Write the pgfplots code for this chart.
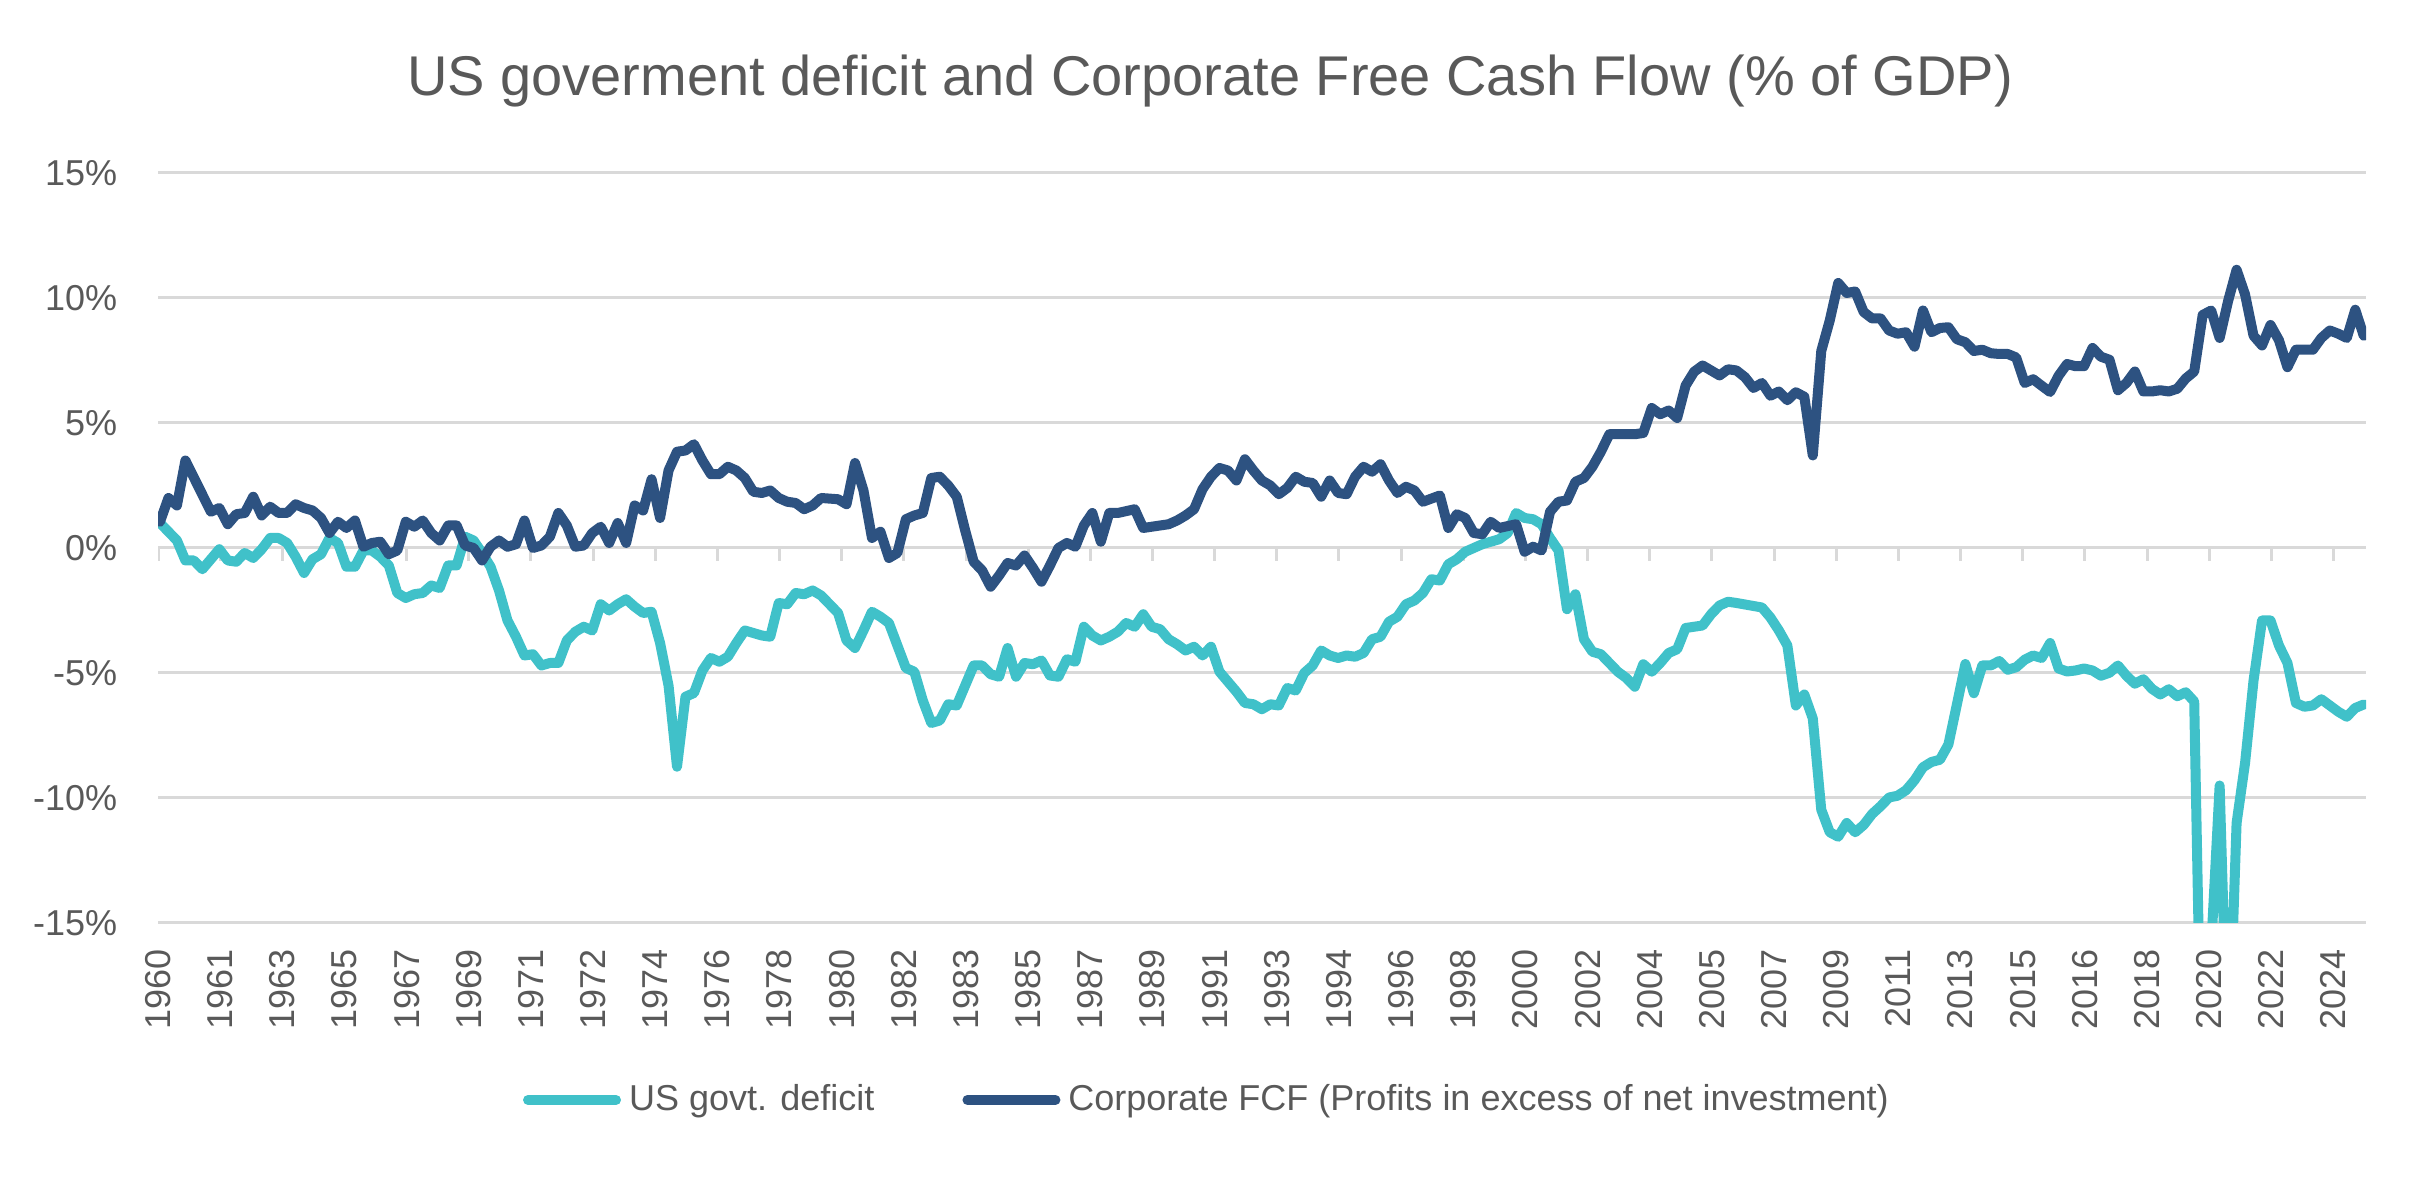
\documentclass[border=0pt]{standalone}
\usepackage{fontspec}
\setmainfont{Liberation Sans}
\usepackage{pgfplots}
\pgfplotsset{compat=1.18}
\usepackage{pgfplotstable}
\definecolor{tealc}{HTML}{40C1C9}
\definecolor{navyc}{HTML}{2D5281}
\definecolor{gridg}{HTML}{D9D9D9}
\definecolor{txtg}{HTML}{595959}

% q = quarter index (0 = 1960Q1), v = % of GDP
\pgfplotstableread{
q v
0 1.0
1 0.65
2 0.3
3 -0.5
4 -0.5
5 -0.85
6 -0.45
7 -0.05
8 -0.5
9 -0.55
10 -0.2
11 -0.4
12 -0.05
13 0.4
14 0.4
15 0.2
16 -0.35
17 -1.0
18 -0.45
19 -0.25
20 0.4
21 0.2
22 -0.75
23 -0.75
24 -0.1
25 -0.1
26 -0.35
27 -0.7
28 -1.8
29 -2.0
30 -1.85
31 -1.8
32 -1.5
33 -1.6
34 -0.7
35 -0.7
36 0.45
37 0.3
38 -0.2
39 -0.75
40 -1.7
41 -2.9
42 -3.55
43 -4.3
44 -4.25
45 -4.7
46 -4.6
47 -4.6
48 -3.7
49 -3.35
50 -3.15
51 -3.3
52 -2.25
53 -2.5
54 -2.25
55 -2.05
56 -2.35
57 -2.6
58 -2.55
59 -3.8
60 -5.5
61 -8.75
62 -5.95
63 -5.8
64 -4.9
65 -4.4
66 -4.55
67 -4.35
68 -3.8
69 -3.3
70 -3.4
71 -3.5
72 -3.55
73 -2.2
74 -2.25
75 -1.8
76 -1.85
77 -1.7
78 -1.9
79 -2.25
80 -2.6
81 -3.7
82 -4.0
83 -3.3
84 -2.55
85 -2.75
86 -3.0
87 -3.9
88 -4.8
89 -4.95
90 -6.1
91 -7.0
92 -6.9
93 -6.25
94 -6.3
95 -5.5
96 -4.7
97 -4.7
98 -5.05
99 -5.15
100 -4.0
101 -5.15
102 -4.6
103 -4.65
104 -4.5
105 -5.1
106 -5.15
107 -4.45
108 -4.55
109 -3.15
110 -3.5
111 -3.7
112 -3.55
113 -3.35
114 -3.0
115 -3.15
116 -2.65
117 -3.15
118 -3.25
119 -3.65
120 -3.85
121 -4.1
122 -3.95
123 -4.3
124 -3.95
125 -4.95
126 -5.35
127 -5.75
128 -6.2
129 -6.25
130 -6.45
131 -6.25
132 -6.3
133 -5.6
134 -5.7
135 -5.0
136 -4.7
137 -4.1
138 -4.3
139 -4.4
140 -4.3
141 -4.35
142 -4.2
143 -3.65
144 -3.55
145 -2.95
146 -2.75
147 -2.25
148 -2.1
149 -1.8
150 -1.25
151 -1.3
152 -0.65
153 -0.45
154 -0.15
155 0.0
156 0.15
157 0.25
158 0.35
159 0.6
160 1.4
161 1.2
162 1.15
163 0.95
164 0.4
165 -0.1
166 -2.45
167 -1.85
168 -3.65
169 -4.15
170 -4.25
172 -4.95
173 -5.2
174 -5.55
175 -4.65
176 -4.95
177 -4.6
178 -4.2
179 -4.05
180 -3.2
181 -3.15
182 -3.1
183 -2.65
184 -2.3
185 -2.15
186 -2.2
187 -2.26
189 -2.38
190 -2.78
191 -3.3
192 -3.9
193 -6.3
194 -5.86
195 -6.82
196 -10.47
197 -11.37
198 -11.55
199 -11.0
200 -11.37
201 -11.08
202 -10.64
203 -10.33
204 -9.98
205 -9.91
206 -9.69
207 -9.29
208 -8.77
209 -8.56
210 -8.47
211 -7.86
212 -6.26
213 -4.64
214 -5.81
215 -4.7
216 -4.7
217 -4.52
218 -4.87
219 -4.77
220 -4.47
221 -4.3
222 -4.4
223 -3.8
224 -4.82
225 -4.94
226 -4.9
227 -4.82
228 -4.9
229 -5.11
230 -4.99
231 -4.7
232 -5.11
233 -5.43
234 -5.25
235 -5.63
236 -5.86
237 -5.65
238 -5.93
239 -5.77
240 -6.14
241 -24.0
242 -16.0
243 -9.5
244 -21.0
245 -11.0
246 -8.6
247 -5.3
248 -2.9
249 -2.9
250 -3.9
251 -4.6
252 -6.2
253 -6.35
254 -6.3
255 -6.05
256 -6.3
257 -6.55
258 -6.75
259 -6.4
260 -6.26
}\deficit

\pgfplotstableread{
q v
0 1.05
1 2.0
2 1.7
3 3.5
6 1.45
7 1.6
8 0.95
9 1.35
10 1.4
11 2.05
12 1.3
13 1.65
14 1.4
15 1.4
16 1.75
17 1.6
18 1.5
19 1.2
20 0.6
21 1.05
22 0.8
23 1.1
24 0.05
25 0.2
26 0.25
27 -0.25
28 -0.1
29 1.05
30 0.85
31 1.1
32 0.6
33 0.3
34 0.9
35 0.9
36 0.1
37 0.0
38 -0.5
39 0.05
40 0.3
41 0.05
42 0.15
43 1.1
44 0.0
45 0.1
46 0.45
47 1.4
48 0.9
49 0.05
50 0.1
51 0.6
52 0.85
53 0.2
54 1.0
55 0.2
56 1.7
57 1.5
58 2.75
59 1.2
60 3.1
61 3.85
62 3.9
63 4.15
64 3.5
65 2.95
66 2.95
67 3.25
68 3.1
69 2.8
70 2.25
71 2.2
72 2.3
73 2.0
74 1.85
75 1.8
76 1.55
77 1.7
78 2.0
80 1.95
81 1.75
82 3.4
83 2.3
84 0.4
85 0.65
86 -0.4
87 -0.2
88 1.15
89 1.3
90 1.4
91 2.8
92 2.85
93 2.5
94 2.05
95 0.7
96 -0.55
97 -0.9
98 -1.55
99 -1.1
100 -0.6
101 -0.7
102 -0.3
103 -0.8
104 -1.35
105 -0.7
106 0.0
107 0.2
108 0.05
109 0.9
110 1.4
111 0.25
112 1.4
113 1.4
115 1.55
116 0.8
117 0.85
119 0.95
120 1.1
121 1.3
122 1.55
123 2.35
124 2.85
125 3.2
126 3.1
127 2.7
128 3.55
129 3.1
130 2.7
131 2.5
132 2.15
133 2.4
134 2.85
135 2.65
136 2.6
137 2.05
138 2.7
139 2.2
140 2.15
141 2.85
142 3.25
143 3.05
144 3.35
145 2.7
146 2.2
147 2.45
148 2.3
149 1.85
151 2.1
152 0.8
153 1.35
154 1.2
155 0.6
156 0.55
157 1.05
158 0.8
160 0.95
161 -0.15
162 0.05
163 -0.1
164 1.45
165 1.85
166 1.9
167 2.65
168 2.8
169 3.25
170 3.85
171 4.55
172 4.55
174 4.55
175 4.6
176 5.6
177 5.35
178 5.5
179 5.2
180 6.5
181 7.05
182 7.3
183 7.1
184 6.9
185 7.15
186 7.1
187 6.83
188 6.4
189 6.6
190 6.09
191 6.26
192 5.91
193 6.23
194 6.05
195 3.7
196 7.88
197 9.1
198 10.6
199 10.2
200 10.26
201 9.44
202 9.18
203 9.18
204 8.7
205 8.57
206 8.63
207 8.05
208 9.5
209 8.63
210 8.8
211 8.83
212 8.35
213 8.23
214 7.88
215 7.93
216 7.79
217 7.76
218 7.76
219 7.62
220 6.6
221 6.75
222 6.49
223 6.24
224 6.89
225 7.36
226 7.27
227 7.27
228 8.0
229 7.65
230 7.53
231 6.31
232 6.6
233 7.06
234 6.26
235 6.26
236 6.31
237 6.26
238 6.37
239 6.78
240 7.06
241 9.32
242 9.5
243 8.4
244 9.88
245 11.13
246 10.14
247 8.49
248 8.1
249 8.92
250 8.31
251 7.23
252 7.93
253 7.93
254 7.93
255 8.4
256 8.7
257 8.57
258 8.4
259 9.53
260 8.49
}\fcf

\begin{document}
\begin{tikzpicture}
\useasboundingbox (0,0) rectangle (605pt,294.25pt);
\begin{axis}[
  at={(39.5pt,63.5pt)}, anchor=south west,
  width=552pt, height=187.5pt, scale only axis,
  xmin=-0.2333, xmax=260.27, ymin=-15, ymax=15,
  axis line style={draw=none},
  ytick={-15,-10,-5,0,5,10,15},
  yticklabels={-15\%,-10\%,-5\%,0\%,5\%,10\%,15\%},
  xtick={-0.2333,7.1,14.433,21.767,29.1,36.433,43.767,51.1,58.433,65.767,73.1,80.433,87.767,95.1,102.433,109.767,117.1,124.433,131.767,139.1,146.433,153.767,161.1,168.433,175.767,183.1,190.433,197.767,205.1,212.433,219.767,227.1,234.433,241.767,249.1,256.433},
  xticklabels={1960,1961,1963,1965,1967,1969,1971,1972,1974,1976,1978,1980,1982,1983,1985,1987,1989,1991,1993,1994,1996,1998,2000,2002,2004,2005,2007,2009,2011,2013,2015,2016,2018,2020,2022,2024},
  major tick length=0pt,
  ymajorgrids, xmajorgrids=false,
  major grid style={gridg, line width=0.75pt},
  tick label style={font=\fontsize{9}{10.8}\selectfont, text=txtg},
  xticklabel style={rotate=90, anchor=east, inner sep=0pt},
  yticklabel style={anchor=east, inner sep=0pt},
  xticklabel shift=6.5pt, yticklabel shift=10pt,
  legend columns=2,
  legend cell align=left,
  legend style={draw=none, fill=none, at={(0.4764,-0.236)}, anchor=center,
    font=\fontsize{9}{10.8}\selectfont, text=txtg,
    /tikz/every even column/.append style={column sep=20pt}},
  legend image code/.code={\draw[#1] (0pt,0pt) -- (22pt,0pt);},
]
\pgfplotsinvokeforeach{-0.2333,7.1,14.433,21.767,29.1,36.433,43.767,51.1,58.433,65.767,73.1,80.433,87.767,95.1,102.433,109.767,117.1,124.433,131.767,139.1,146.433,153.767,161.1,168.433,175.767,183.1,190.433,197.767,205.1,212.433,219.767,227.1,234.433,241.767,249.1,256.433}{
  \draw[gridg, line width=0.75pt] (axis cs:#1,0) -- ++(0pt,-3.3pt);
}
\addplot[tealc, line width=2.5pt, line join=round, line cap=round, mark=none] table[x=q,y=v]{\deficit};
\addlegendentry{US govt. deficit}
\addplot[navyc, line width=2.5pt, line join=round, line cap=round, mark=none] table[x=q,y=v]{\fcf};
\addlegendentry{Corporate FCF (Profits in excess of net investment)}
\end{axis}
\node[anchor=base, font=\fontsize{14}{16.8}\selectfont, text=txtg] at (302.5pt,270.25pt) {US goverment deficit and Corporate Free Cash Flow (\% of GDP)};
\end{tikzpicture}
\end{document}
